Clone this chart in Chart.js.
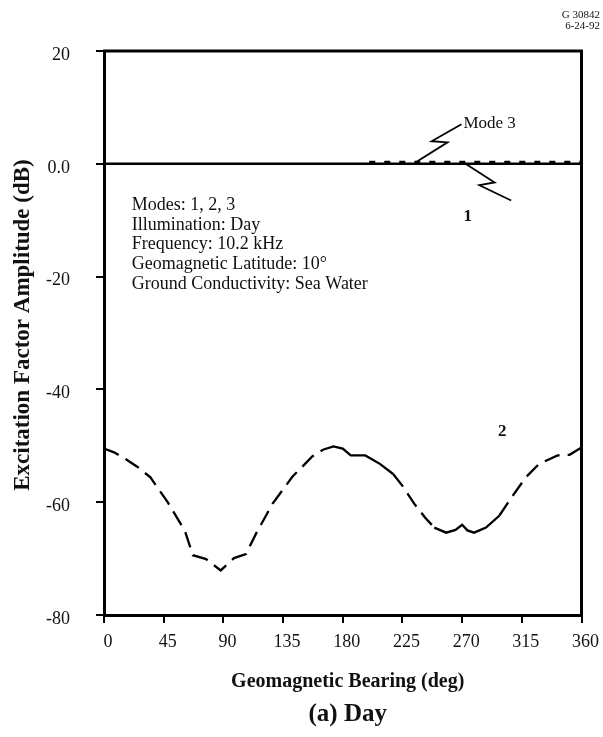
<!DOCTYPE html>
<html>
<head>
<meta charset="utf-8">
<script src="https://cdn.jsdelivr.net/npm/chart.js@4"></script>
<style>
  html, body { margin: 0; padding: 0; background: #fff; }
  #wrap { width: 603px; height: 737px; position: relative; }
</style>
</head>
<body>
<div id="wrap"><canvas id="excChart"></canvas></div>
<script>
// Mode 2 excitation factor vs bearing
const bearings2 = [0, 8, 16, 25, 35, 48, 61, 67, 77, 88, 98, 107, 115, 127, 142, 157, 165, 173, 180, 186,
  197, 208, 218, 225, 234, 242, 249, 258, 265, 270, 274, 279, 288, 298, 308, 318, 328, 342, 351, 360];
const amp2 = [-50.5, -51.2, -52.3, -53.7, -55.6, -60.0, -65.1, -69.4, -70.1, -72.1, -69.9, -69.2, -65.4, -60.3, -55.5, -51.9, -50.7, -50.1, -50.5, -51.7,
  -51.7, -53.2, -55.0, -57.1, -60.3, -62.7, -64.5, -65.4, -64.9, -64.0, -65.0, -65.4, -64.5, -62.4, -58.9, -55.6, -53.2, -51.7, -51.6, -50.3];

// Mode 1 sits on the 0 dB line
const bearings1 = [0, 360];
const amp1 = [0.0, 0.0];

// Mode 3 dotted, just above mode 1 on the right half
const bearings3 = [200, 225, 270, 315, 360];
const amp3 = [0.3, 0.3, 0.3, 0.3, 0.3];

const xTicks = [0, 45, 90, 135, 180, 225, 270, 315, 360];
const yTicks = [20, 0, -20, -40, -60, -80];
const yTickLabels = ['20', '0.0', '-20', '-40', '-60', '-80'];

const noteLines = [
  'Modes: 1, 2, 3',
  'Illumination: Day',
  'Frequency: 10.2 kHz',
  'Geomagnetic Latitude: 10\u00b0',
  'Ground Conductivity: Sea Water'
];

const serif = "'Liberation Serif', 'DejaVu Serif', serif";

function pts(xs, ys) { return xs.map((x, i) => ({ x: x, y: ys[i] })); }

// leader zigzags, in data units (deg, dB)
const leader3 = [[236, 0.4], [259, 3.8], [247, 4.0], [269.5, 7.0]];
const leader1 = [[272, 0.1], [294.5, -3.3], [283, -3.8], [307, -6.5]];

// stretches where the mode 2 trace is drawn unbroken
const solidRuns = [[160, 218], [245, 290]];

const overlay = {
  id: 'overlay',
  afterDraw(chart) {
    const ctx = chart.ctx;
    const a = chart.chartArea;
    const xs = chart.scales.x, ys = chart.scales.y;
    const px = (d) => xs.getPixelForValue(d);
    const py = (v) => ys.getPixelForValue(v);
    ctx.save();
    // top and right frame
    ctx.strokeStyle = '#000';
    ctx.lineWidth = 3;
    ctx.beginPath();
    ctx.moveTo(a.left - 1, a.top);
    ctx.lineTo(a.right, a.top);
    ctx.lineTo(a.right, a.bottom + 1);
    ctx.stroke();

    // leaders
    ctx.lineWidth = 1.8;
    [leader3, leader1].forEach((ln) => {
      ctx.beginPath();
      ln.forEach((p, i) => {
        if (i === 0) ctx.moveTo(px(p[0]), py(p[1]));
        else ctx.lineTo(px(p[0]), py(p[1]));
      });
      ctx.stroke();
    });

    ctx.fillStyle = '#111';
    ctx.textBaseline = 'middle';
    ctx.textAlign = 'left';
    ctx.font = '17px ' + serif;
    ctx.fillText('Mode 3', px(271), py(7.2));
    ctx.font = 'bold 17px ' + serif;
    ctx.fillText('1', px(271), py(-9.3));
    ctx.fillText('2', px(297), py(-47.5));

    // notes block
    ctx.font = '18px ' + serif;
    const nx = px(21);
    const ny = py(-7.3);
    noteLines.forEach((t, i) => ctx.fillText(t, nx, ny + i * 19.8));

    // axis titles
    ctx.textAlign = 'center';
    ctx.font = 'bold 20px ' + serif;
    ctx.fillText('Geomagnetic Bearing (deg)', (a.left + a.right) / 2 + 5, 682);
    ctx.font = 'bold 25px ' + serif;
    ctx.fillText('(a) Day', (a.left + a.right) / 2 + 5, 715);

    ctx.save();
    ctx.translate(23, 325);
    ctx.rotate(-Math.PI / 2);
    ctx.font = 'bold 23px ' + serif;
    ctx.fillText('Excitation Factor Amplitude (dB)', 0, 0);
    ctx.restore();

    // drawing number
    ctx.textAlign = 'right';
    ctx.font = '11px ' + serif;
    ctx.fillText('G 30842', 600, 15);
    ctx.fillText('6-24-92', 600, 26);
    ctx.restore();
  }
};

new Chart(document.getElementById('excChart'), {
  type: 'line',
  data: {
    datasets: [
      {
        label: 'Mode 1',
        data: pts(bearings1, amp1),
        borderColor: '#000',
        borderWidth: 2.5,
        pointRadius: 0,
        tension: 0
      },
      {
        label: 'Mode 3',
        data: pts(bearings3, amp3),
        borderColor: '#000',
        borderWidth: 2.5,
        borderDash: [6, 9],
        pointRadius: 0,
        tension: 0
      },
      {
        label: 'Mode 2',
        data: pts(bearings2, amp2),
        borderColor: '#000',
        borderWidth: 2.3,
        borderDash: [16, 8],
        pointRadius: 0,
        tension: 0,
        segment: {
          borderDash: (c) => {
            const x0 = c.p0.parsed.x;
            return solidRuns.some((r) => x0 >= r[0] && x0 < r[1]) ? [] : [16, 8];
          }
        }
      }
    ]
  },
  options: {
    responsive: true,
    maintainAspectRatio: false,
    animation: false,
    layout: { padding: { left: 0, right: 21, top: 51, bottom: 0 } },
    plugins: { legend: { display: false }, tooltip: { enabled: false } },
    scales: {
      x: {
        type: 'linear',
        min: 0,
        max: 360,
        afterBuildTicks: (s) => { s.ticks = xTicks.map((v) => ({ value: v })); },
        afterFit: (s) => { s.height = 122; },
        ticks: { color: '#111', font: { family: serif, size: 18 }, padding: 8, labelOffset: 4, maxRotation: 0 },
        grid: { drawOnChartArea: false, drawTicks: true, tickLength: 8, color: '#000', lineWidth: 2 },
        border: { color: '#000', width: 3 }
      },
      y: {
        min: -80,
        max: 20,
        afterBuildTicks: (s) => { s.ticks = yTicks.map((v) => ({ value: v })); },
        afterFit: (s) => { s.width = 104; },
        ticks: {
          color: '#111',
          font: { family: serif, size: 18 },
          padding: 26,
          labelOffset: 4,
          callback: (v) => yTickLabels[yTicks.indexOf(v)]
        },
        grid: { drawOnChartArea: false, drawTicks: true, tickLength: 8, color: '#000', lineWidth: 2 },
        border: { color: '#000', width: 3 }
      }
    }
  },
  plugins: [overlay]
});
</script>
</body>
</html>
